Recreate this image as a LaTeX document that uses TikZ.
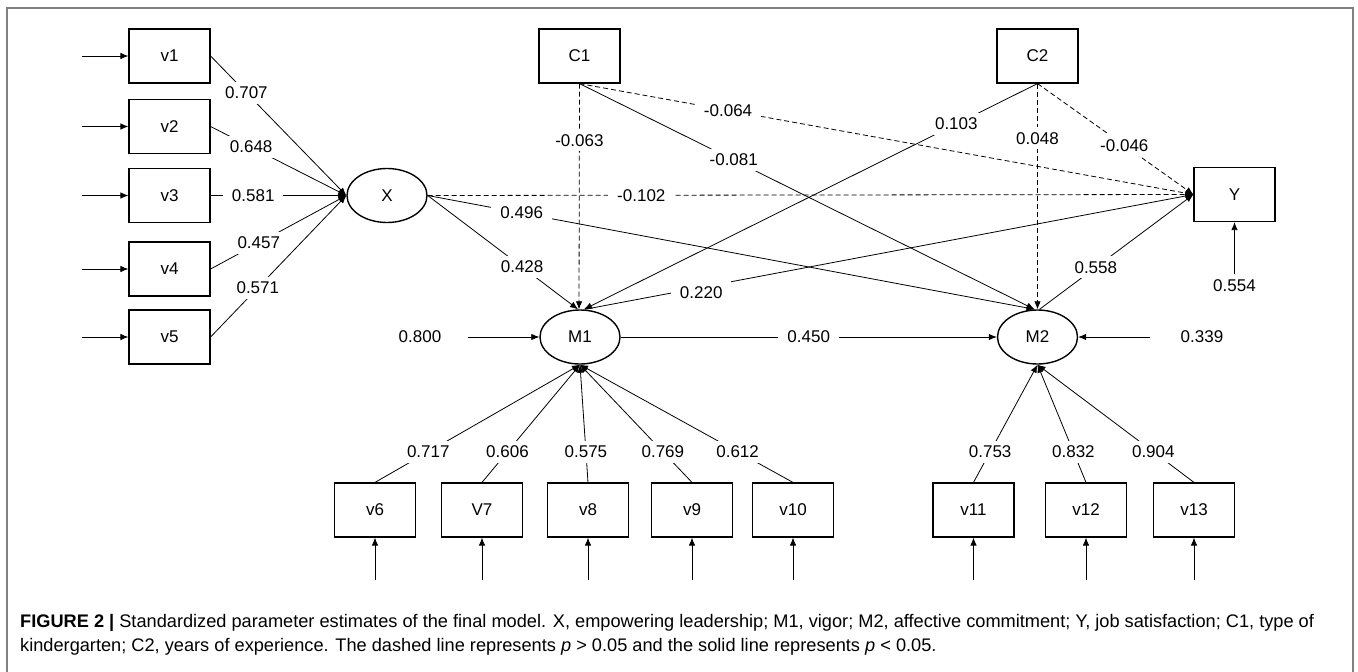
\documentclass[tikz,border=0pt]{standalone}
\usepackage{fontspec}
\setmainfont{Liberation Sans}
\usetikzlibrary{arrows.meta,shapes.geometric}
\begin{document}
\begin{tikzpicture}[x=1pt,y=-1pt,
  every node/.style={font=\fontsize{17}{21}\selectfont},
  obs/.style={draw, line width=1.2pt, minimum width=81pt, minimum height=54pt, inner sep=0pt},
  lat/.style={draw, ellipse, line width=1.4pt, minimum width=80pt, minimum height=54pt, inner sep=0pt},
  ln/.style={line width=0.8pt},
  arr/.style={ln, -{Latex[length=8pt,width=6.5pt]}},
  dsh/.style={dash pattern=on 5pt off 3pt},
  lbl/.style={fill=white, inner xsep=9pt, inner ysep=5pt},
  captxt/.style={anchor=base west, inner sep=0pt, font=\fontsize{18.2}{22}\selectfont}
]
\useasboundingbox (0,0) rectangle (1358,672);
\draw[black!50, line width=1.4pt] (7,672) -- (7,8) -- (1353,8) -- (1353,672);

% observed indicators of X
\node[obs] (v1) at (169.5,56) {v1};
\node[obs] (v2) at (169.5,126.5) {v2};
\node[obs] (v3) at (169.5,195.5) {v3};
\node[obs] (v4) at (169.5,269) {v4};
\node[obs] (v5) at (169.5,337) {v5};
% controls and outcome
\node[obs] (C1) at (579.5,56) {C1};
\node[obs] (C2) at (1037.5,56) {C2};
\node[obs] (Y) at (1234.5,194.5) {Y};
% latent variables
\node[lat] (X) at (387,195.5) {X};
\node[lat] (M1) at (580,337) {M1};
\node[lat] (M2) at (1037.5,337) {M2};
% indicators of M1, M2
\node[obs] (v6) at (375,510) {v6};
\node[obs] (v7) at (482,510) {V7};
\node[obs] (v8) at (588,510) {v8};
\node[obs] (v9) at (692,510) {v9};
\node[obs] (v10) at (793,510) {v10};
\node[obs] (v11) at (973.5,510) {v11};
\node[obs] (v12) at (1086,510) {v12};
\node[obs] (v13) at (1194,510) {v13};

% error arrows
\foreach \n/\yy in {v1/56,v2/126.5,v3/195.5,v4/269,v5/337}{
  \coordinate (e\n) at (82,\yy);
  \draw[arr] (e\n) -- (\n);
}
\foreach \n/\xx in {v6/375,v7/482,v8/588,v9/692,v10/793,v11/973.5,v12/1086,v13/1194}{
  \coordinate (e\n) at (\xx,580);
  \draw[arr] (e\n) -- (\n);
}
\node (lY) at (1234.5,286) {0.554};
\coordinate (eY) at (1234.5,274);
\draw[arr] (eY) -- (Y);
\node (lM1) at (420,337) {0.800};
\coordinate (eM1) at (468,337);
\draw[arr] (eM1) -- (M1);
\node (lM2) at (1202,337) {0.339};
\coordinate (eM2) at (1150,337);
\draw[arr] (eM2) -- (M2);

% loadings of X
\draw[arr] (v1.east) -- node[lbl,pos=0.264]{0.707} (X.west);
\draw[arr] (v2.east) -- node[lbl,pos=0.299]{0.648} (X.west);
\draw[arr] (v3.east) -- node[lbl,pos=0.314]{0.581} (X.west);
\draw[arr] (v4.east) -- node[lbl,pos=0.355]{0.457} (X.west);
\draw[arr] (v5.east) -- node[lbl,pos=0.348]{0.571} (X.west);

% structural paths
\draw[arr,dsh] (X.east) -- node[lbl,pos=0.279]{-0.102} (Y.west);
\draw[arr] (X.east) -- node[lbl,pos=0.628]{0.428} ([xshift=-2pt]M1.north);
\draw[arr] (X.east) -- node[lbl,pos=0.155]{0.496} ([xshift=-3pt]M2.north);
\draw[arr,dsh] (C1.south) -- node[lbl,pos=0.251]{-0.063} ([xshift=-1pt]M1.north);
\draw[arr,dsh] (C1.south) -- node[lbl,pos=0.242]{-0.064} (Y.west);
\draw[arr] (C1.south) -- node[lbl,pos=0.339]{-0.081} ([xshift=-3pt]M2.north);
\draw[arr] (C2.south) -- node[lbl,pos=0.179]{0.103} ([xshift=4pt]M1.north);
\draw[arr,dsh] (C2.south) -- node[lbl,pos=0.242]{0.048} (M2.north);
\draw[arr,dsh] (C2.south) -- node[lbl,pos=0.557]{-0.046} (Y.west);
\draw[arr] ([xshift=5pt]M1.north) -- node[lbl,pos=0.191,yshift=-5pt]{0.220} (Y.west);
\draw[arr] ([xshift=2pt]M2.north) -- node[lbl,pos=0.366]{0.558} (Y.west);
\draw[arr] (M1.east) -- node[lbl,pos=0.5]{0.450} (M2.west);

% loadings of M1 and M2
\draw[arr] (v6.north) -- node[lbl,pos=0.26]{0.717} (M1.south);
\draw[arr] (v7.north) -- node[lbl,pos=0.26]{0.606} (M1.south);
\draw[arr] (v8.north) -- node[lbl,pos=0.26]{0.575} (M1.south);
\draw[arr] (v9.north) -- node[lbl,pos=0.26]{0.769} (M1.south);
\draw[arr] (v10.north) -- node[lbl,pos=0.26]{0.612} (M1.south);
\draw[arr] (v11.north) -- node[lbl,pos=0.26]{0.753} (M2.south);
\draw[arr] (v12.north) -- node[lbl,pos=0.26]{0.832} (M2.south);
\draw[arr] (v13.north) -- node[lbl,pos=0.26]{0.904} (M2.south);

% caption
\node[captxt] (cap1) at (20,627) {\textbf{FIGURE 2 |} Standardized parameter estimates of the final model. X, empowering leadership; M1, vigor; M2, affective commitment; Y, job satisfaction; C1, type of};
\node[captxt] (cap2) at (20,651) {kindergarten; C2, years of experience. The dashed line represents \textit{p} > 0.05 and the solid line represents \textit{p} < 0.05.};
\end{tikzpicture}
\end{document}
